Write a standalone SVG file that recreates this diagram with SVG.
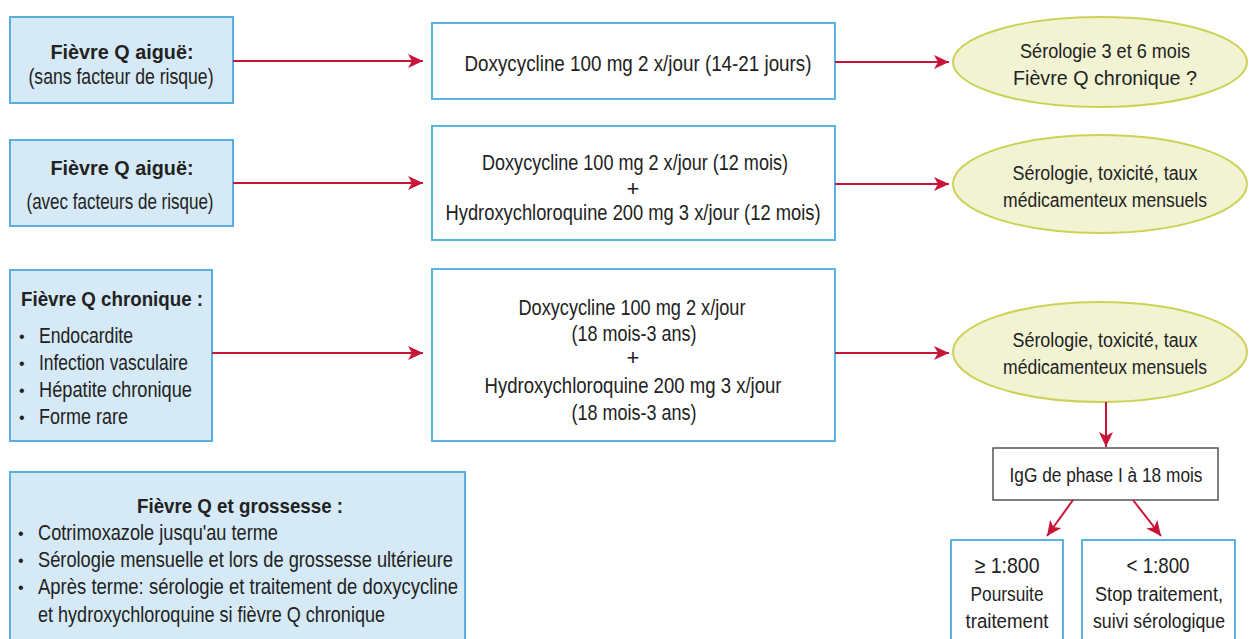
<svg xmlns="http://www.w3.org/2000/svg" width="1249" height="639" viewBox="0 0 1249 639">
<defs>
<style>
text{font-family:"Liberation Sans",Arial,sans-serif;font-size:22px;fill:#222;}
.c{text-anchor:middle;}
.b{font-weight:bold;font-size:21px;}
.s{font-size:20px;}
.dot{font-size:16px;}
.blue{fill:#d5eaf6;stroke:#5aafdc;stroke-width:2;}
.white{fill:#fff;stroke:#5ab4e0;stroke-width:2;}
.ell{fill:#f1f3d2;stroke:#cbd255;stroke-width:2;}
.gray{fill:#fff;stroke:#555;stroke-width:1.5;}
.arr{stroke:#c9143a;stroke-width:2;fill:none;marker-end:url(#ah);}
</style>
<marker id="ah" markerUnits="userSpaceOnUse" markerWidth="16" markerHeight="14" refX="15" refY="7" orient="auto">
<path d="M0,0 L15,7 L0,14 L4,7 z" fill="#c9143a"/>
</marker>
</defs>
<rect width="1249" height="639" fill="#fff"/>

<g id="acute1">
<rect class="blue" x="10" y="17" width="223" height="86"/>
<text class="c b" x="122" y="59" textLength="143" lengthAdjust="spacingAndGlyphs">Fièvre Q aiguë:</text>
<text class="c" x="121" y="84" textLength="185" lengthAdjust="spacingAndGlyphs">(sans facteur de risque)</text>
</g>
<g id="acute2">
<rect class="blue" x="10" y="140" width="223" height="86"/>
<text class="c b" x="122" y="175" textLength="143" lengthAdjust="spacingAndGlyphs">Fièvre Q aiguë:</text>
<text class="c" x="120" y="209" textLength="187" lengthAdjust="spacingAndGlyphs">(avec facteurs de risque)</text>
</g>
<g id="chronic">
<rect class="blue" x="10" y="270" width="202" height="171"/>
<text class="b" x="21" y="306" textLength="182" lengthAdjust="spacingAndGlyphs">Fièvre Q chronique :</text>
<text class="dot" x="19" y="342">•</text><text x="39" y="343" textLength="94" lengthAdjust="spacingAndGlyphs">Endocardite</text>
<text class="dot" x="19" y="369">•</text><text x="39" y="370" textLength="149" lengthAdjust="spacingAndGlyphs">Infection vasculaire</text>
<text class="dot" x="19" y="396">•</text><text x="39" y="397" textLength="153" lengthAdjust="spacingAndGlyphs">Hépatite chronique</text>
<text class="dot" x="19" y="423">•</text><text x="39" y="424" textLength="89" lengthAdjust="spacingAndGlyphs">Forme rare</text>
</g>
<g id="pregnancy">
<rect class="blue" x="10" y="472" width="455" height="180"/>
<text class="c b" x="240" y="513" textLength="206" lengthAdjust="spacingAndGlyphs">Fièvre Q et grossesse :</text>
<text class="dot" x="18" y="539">•</text><text x="38" y="540" textLength="240" lengthAdjust="spacingAndGlyphs">Cotrimoxazole jusqu'au terme</text>
<text class="dot" x="18" y="566">•</text><text x="38" y="567" textLength="415" lengthAdjust="spacingAndGlyphs">Sérologie mensuelle et lors de grossesse ultérieure</text>
<text class="dot" x="18" y="593">•</text><text x="38" y="594" textLength="420" lengthAdjust="spacingAndGlyphs">Après terme: sérologie et traitement de doxycycline</text>
<text x="38" y="622" textLength="347" lengthAdjust="spacingAndGlyphs">et hydroxychloroquine si fièvre Q chronique</text>
</g>

<g id="treat1">
<rect class="white" x="432" y="23" width="403" height="76"/>
<text class="c" x="638" y="71" textLength="347" lengthAdjust="spacingAndGlyphs">Doxycycline 100 mg 2 x/jour (14-21 jours)</text>
</g>
<g id="treat2">
<rect class="white" x="432" y="126" width="403" height="114"/>
<text class="c" x="635" y="170" textLength="306" lengthAdjust="spacingAndGlyphs">Doxycycline 100 mg 2 x/jour (12 mois)</text>
<text class="c" x="633" y="196">+</text>
<text class="c" x="633" y="220" textLength="375" lengthAdjust="spacingAndGlyphs">Hydroxychloroquine 200 mg 3 x/jour (12 mois)</text>
</g>
<g id="treat3">
<rect class="white" x="432" y="269" width="403" height="172"/>
<text class="c" x="632" y="315" textLength="227" lengthAdjust="spacingAndGlyphs">Doxycycline 100 mg 2 x/jour</text>
<text class="c" x="634" y="341" textLength="125" lengthAdjust="spacingAndGlyphs">(18 mois-3 ans)</text>
<text class="c" x="633" y="365">+</text>
<text class="c" x="633" y="393" textLength="297" lengthAdjust="spacingAndGlyphs">Hydroxychloroquine 200 mg 3 x/jour</text>
<text class="c" x="634" y="420" textLength="125" lengthAdjust="spacingAndGlyphs">(18 mois-3 ans)</text>
</g>

<g id="follow1">
<ellipse class="ell" cx="1100" cy="62" rx="147" ry="45"/>
<text class="c s" x="1105" y="58" textLength="170" lengthAdjust="spacingAndGlyphs">Sérologie 3 et 6 mois</text>
<text class="c s" x="1105" y="85" textLength="184" lengthAdjust="spacingAndGlyphs">Fièvre Q chronique ?</text>
</g>
<g id="follow2">
<ellipse class="ell" cx="1100" cy="184" rx="147" ry="49"/>
<text class="c s" x="1105" y="180" textLength="185" lengthAdjust="spacingAndGlyphs">Sérologie, toxicité, taux</text>
<text class="c s" x="1105" y="207" textLength="204" lengthAdjust="spacingAndGlyphs">médicamenteux mensuels</text>
</g>
<g id="follow3">
<ellipse class="ell" cx="1100" cy="352" rx="147" ry="50"/>
<text class="c s" x="1105" y="347" textLength="185" lengthAdjust="spacingAndGlyphs">Sérologie, toxicité, taux</text>
<text class="c s" x="1105" y="374" textLength="204" lengthAdjust="spacingAndGlyphs">médicamenteux mensuels</text>
</g>
<g id="igg">
<rect class="gray" x="993" y="448" width="225" height="52"/>
<text class="c s" x="1106" y="482" textLength="193" lengthAdjust="spacingAndGlyphs">IgG de phase I à 18 mois</text>
</g>
<g id="high">
<rect class="white" x="951" y="540" width="112" height="110"/>
<text class="c" x="1007" y="573" textLength="65" lengthAdjust="spacingAndGlyphs">≥ 1:800</text>
<text class="c s" x="1007" y="601" textLength="73" lengthAdjust="spacingAndGlyphs">Poursuite</text>
<text class="c s" x="1007" y="628" textLength="83" lengthAdjust="spacingAndGlyphs">traitement</text>
</g>
<g id="low">
<rect class="white" x="1082" y="540" width="153" height="110"/>
<text class="c" x="1158" y="573" textLength="63" lengthAdjust="spacingAndGlyphs">&lt; 1:800</text>
<text class="c s" x="1159" y="601" textLength="128" lengthAdjust="spacingAndGlyphs">Stop traitement,</text>
<text class="c s" x="1159" y="628" textLength="132" lengthAdjust="spacingAndGlyphs">suivi sérologique</text>
</g>

<g id="connectors">
<line class="arr" x1="233" y1="61" x2="423" y2="61"/>
<line class="arr" x1="233" y1="183" x2="423" y2="183"/>
<line class="arr" x1="212" y1="353" x2="423" y2="353"/>
<line class="arr" x1="835" y1="62" x2="949" y2="62"/>
<line class="arr" x1="835" y1="184" x2="949" y2="184"/>
<line class="arr" x1="835" y1="353" x2="949" y2="353"/>
<line class="arr" x1="1106" y1="402" x2="1106" y2="447"/>
<line class="arr" x1="1073" y1="500" x2="1047" y2="536"/>
<line class="arr" x1="1133" y1="500" x2="1161" y2="536"/>
</g>
</svg>
